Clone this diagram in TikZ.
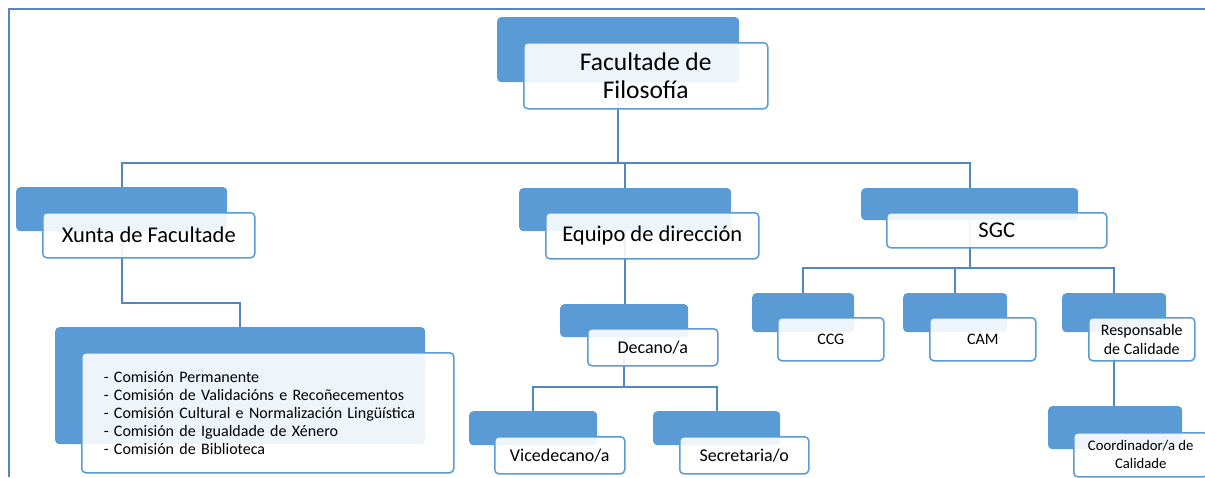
\documentclass[tikz,border=0pt]{standalone}
\usepackage{fontspec}
\setmainfont{Carlito}
\usepackage{xcolor}
\usepackage{tikz}
\usetikzlibrary{backgrounds}
\definecolor{boxblue}{RGB}{91,155,213}
\definecolor{lineblue}{RGB}{84,134,196}

\begin{document}
\begin{tikzpicture}[x=1pt, y=-1pt]
    \tikzstyle{backbox} = [rectangle, rounded corners=4pt, fill=boxblue, anchor=north west, inner sep=0pt]
    \tikzstyle{frontbox} = [rectangle, rounded corners=4pt, draw=boxblue, line width=1.5pt, fill=white, fill opacity=0.9, text opacity=1, anchor=north west, inner sep=1pt, align=center]
    \tikzstyle{link} = [draw=lineblue, line width=1.6pt]

    \useasboundingbox (0,0) rectangle (1205,477);
    \draw [lineblue, line width=2.5pt] (9,477) -- (9,9) -- (1205,9);

    % Top level
    \node [backbox, minimum width=242pt, minimum height=65pt] (facb) at (497,17) {};
    \node [frontbox, minimum width=244pt, minimum height=66pt, font=\fontsize{25.5}{28}\selectfont] (fac) at ([shift={(26,25)}]facb.north west) {Facultade de\\Filosofía};

    % Second level
    \node [backbox, minimum width=211pt, minimum height=44pt] (xuntab) at (16,187) {};
    \node [frontbox, minimum width=212pt, minimum height=45pt, font=\fontsize{22.5}{27}\selectfont] (xunta) at ([shift={(26,25)}]xuntab.north west) {Xunta de Facultade};
    \node [backbox, minimum width=212pt, minimum height=43pt] (equipob) at (519,188) {};
    \node [frontbox, minimum width=213pt, minimum height=46pt, font=\fontsize{22.5}{27}\selectfont] (equipo) at ([shift={(26,24)}]equipob.north west) {Equipo de dirección};
    \node [backbox, minimum width=217pt, minimum height=32pt] (sgcb) at (861,188) {};
    \node [frontbox, minimum width=220pt, minimum height=35pt, font=\fontsize{22.5}{27}\selectfont] (sgc) at ([shift={(25,24)}]sgcb.north west) {SGC};

    % Comisions
    \node [backbox, minimum width=370pt, minimum height=117pt] (comisb) at (55,327) {};
    \node [frontbox, text width=328pt, inner xsep=22pt, minimum height=120pt, align=left, font=\fontsize{16}{18}\selectfont] (comis) at ([shift={(26,25)}]comisb.north west) {- Comisión Permanente\\- Comisión de Validacións e Recoñecementos\\- Comisión Cultural e Normalización Lingüística\\- Comisión de Igualdade de Xénero\\- Comisión de Biblioteca};

    % Equipo de direccion
    \node [backbox, minimum width=128pt, minimum height=33pt] (decanob) at (560,304) {};
    \node [frontbox, minimum width=130pt, minimum height=37pt, font=\fontsize{18}{21}\selectfont] (decano) at ([shift={(27,24)}]decanob.north west) {Decano/a};
    \node [backbox, minimum width=128pt, minimum height=34pt] (viceb) at (469,411) {};
    \node [frontbox, minimum width=130pt, minimum height=37pt, font=\fontsize{18}{21}\selectfont] (vice) at ([shift={(25,25)}]viceb.north west) {Vicedecano/a};
    \node [backbox, minimum width=127pt, minimum height=34pt] (secrb) at (653,411) {};
    \node [frontbox, minimum width=129pt, minimum height=37pt, font=\fontsize{18}{21}\selectfont] (secr) at ([shift={(26,25)}]secrb.north west) {Secretaria/o};

    % SGC
    \node [backbox, minimum width=102pt, minimum height=39pt] (ccgb) at (752,293) {};
    \node [frontbox, minimum width=106pt, minimum height=43pt, font=\fontsize{16}{19.5}\selectfont] (ccg) at ([shift={(25,24)}]ccgb.north west) {CCG};
    \node [backbox, minimum width=104pt, minimum height=39pt] (camb) at (903,293) {};
    \node [frontbox, minimum width=106pt, minimum height=43pt, font=\fontsize{16}{19.5}\selectfont] (cam) at ([shift={(26,24)}]camb.north west) {CAM};
    \node [backbox, minimum width=104pt, minimum height=39pt] (respb) at (1062,293) {};
    \node [frontbox, minimum width=106pt, minimum height=43pt, font=\fontsize{16}{19.5}\selectfont] (resp) at ([shift={(26,24)}]respb.north west) {Responsable\\de Calidade};
    \node [backbox, minimum width=134pt, minimum height=43pt] (coordb) at (1048,406) {};
    \node [frontbox, minimum width=134pt, minimum height=44pt, font=\fontsize{14.7}{18}\selectfont] (coord) at ([shift={(25,26)}]coordb.north west) {Coordinador/a de\\Calidade};

    % Connectors
    \coordinate (bustop) at (0,163);
    \coordinate (busxunta) at (0,303);
    \coordinate (busdecano) at (0,387);
    \coordinate (bussgc) at (0,268);
    \begin{scope}[on background layer]
        \draw [link] (facb.center) -- (facb.center |- bustop) -| (xuntab.north)
                     (facb.center |- bustop) -| (equipob.north)
                     (facb.center |- bustop) -| (sgcb.north);
        \draw [link] (xuntab.center) -- (xuntab.center |- busxunta) -| (comisb.north);
        \draw [link] (equipob.center) -- (equipob.center |- decanob.north);
        \draw [link] (decanob.center) -- (decanob.center |- busdecano) -| (viceb.north)
                     (decanob.center |- busdecano) -| (secrb.north);
        \draw [link] (sgcb.center) -- (sgcb.center |- bussgc) -| (ccgb.north)
                     (sgcb.center |- bussgc) -| (camb.north)
                     (sgcb.center |- bussgc) -| (respb.north);
        \draw [link] (respb.center) -- (respb.center |- coordb.north);
    \end{scope}
\end{tikzpicture}
\end{document}
